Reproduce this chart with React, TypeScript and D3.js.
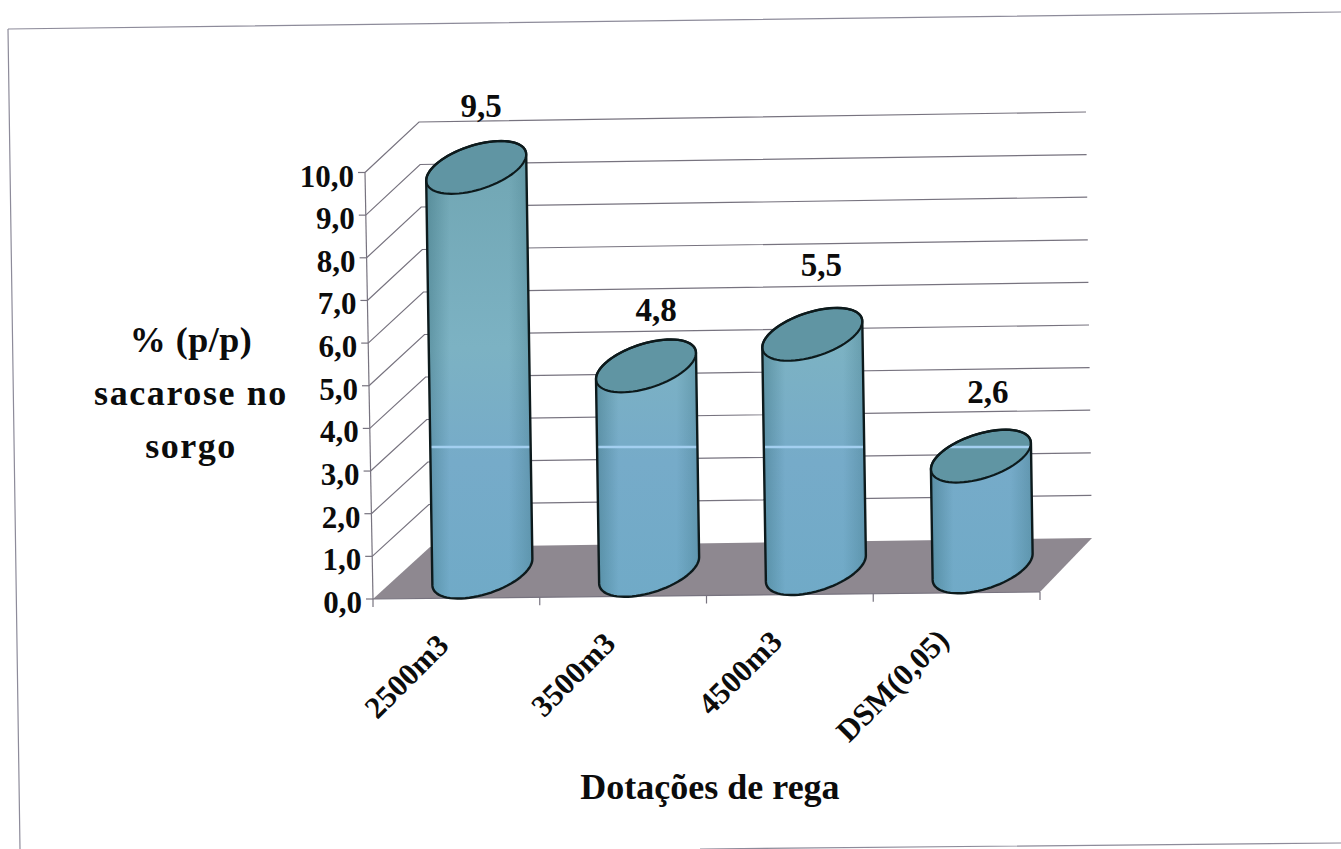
import React from "react";
import * as d3 from "d3";

const categories = ["2500m3", "3500m3", "4500m3", "DSM(0,05)"];
const values = [9.5, 4.8, 5.5, 2.6];
const valueLabels = ["9,5", "4,8", "5,5", "2,6"];
const yTicks = [0, 1, 2, 3, 4, 5, 6, 7, 8, 9, 10];
const yTitleLines = ["% (p/p)", "sacarose no", "sorgo"];
const xTitle = "Dotações de rega";

const WIDTH = 1341;
const HEIGHT = 849;
const SERIF = "'Liberation Serif', 'Times New Roman', serif";
const GRID = "#77737f";

// Offset of each value label from its cylinder's top rim.
const labelLift = [50, 45, 58, 53];
const labelShift = [5, 10, 9, 7];
// Per-line tracking of the value axis title.
const yTitleSpacing = [0.5, 1.6, 1.5];

// The 3D box is described by three skewed edges, each a pair of linear scales over value.
const frontX = d3.scaleLinear().domain([0, 10]).range([373, 365]);
const frontY = d3.scaleLinear().domain([0, 10]).range([599, 172.5]);
const backX = d3.scaleLinear().domain([0, 10]).range([430, 419]);
const backY = d3.scaleLinear().domain([0, 10]).range([547, 122]);
const rightX = d3.scaleLinear().domain([0, 10]).range([1092, 1086]);
const rightY = d3.scaleLinear().domain([0, 10]).range([538, 112]);

// Categories along the front floor edge; the floor tilts slightly upward to the right.
const band = d3.scaleBand<string>().domain(categories).range([373, 1040]);
const floorFrontY = d3.scaleLinear().domain([373, 1040]).range([599, 592]);

// Cylinders stand halfway back on the floor.
const DEPTH_DX = 26;
const DEPTH_DY = -26;
const RX = 50;
const RY = 23;
const SHEAR = 13;
const unitHeight = 42.6;
const unitLean = 0.65;

const angles = d3.range(0, 2 * Math.PI, Math.PI / 36);
const rimPoint = (cx: number, cy: number, t: number): [number, number] => [
  cx + RX * Math.cos(t),
  cy - SHEAR * Math.cos(t) - RY * Math.sin(t),
];
const closedLine = d3.line().curve(d3.curveLinearClosed);

function cylinder(i: number) {
  const cat = categories[i];
  const fx = band(cat)! + band.bandwidth() / 2;
  const baseX = fx + DEPTH_DX;
  const baseY = floorFrontY(fx) + DEPTH_DY;
  const topX = baseX - values[i] * unitLean;
  const topY = baseY - values[i] * unitHeight;
  const rim = closedLine(angles.map((t) => rimPoint(topX, topY, t)))!;
  // Silhouette: the lower half of the base rim joined to the upper half of the top rim.
  const lower = d3.range(Math.PI, 2 * Math.PI + 0.001, Math.PI / 36).map((t) => rimPoint(baseX, baseY, t));
  const upper = d3.range(0, Math.PI + 0.001, Math.PI / 36).map((t) => rimPoint(topX, topY, t));
  const outline = closedLine([...lower, ...upper])!;
  return { fx, baseX, baseY, topX, topY, rim, outline };
}

export default function App() {
  const cylinders = categories.map((_, i) => cylinder(i));
  const floor = closedLine([
    [frontX(0), frontY(0)],
    [1040, floorFrontY(1040)],
    [rightX(0), rightY(0)],
    [backX(0), backY(0)],
  ])!;
  return (
    <svg
      width={WIDTH}
      height={HEIGHT}
      viewBox={`0 0 ${WIDTH} ${HEIGHT}`}
      style={{ position: "absolute", left: 0, top: 0, display: "block", background: "#fff" }}
      fontFamily={SERIF}
      fontWeight="bold"
      fill="#0c0c0c"
    >
      <defs>
        <linearGradient id="bodyTone" gradientUnits="userSpaceOnUse" x1="0" y1="140" x2="0" y2="600">
          <stop offset="0" stopColor="#70a5b2" />
          <stop offset="0.45" stopColor="#7cb2c3" />
          <stop offset="0.7" stopColor="#76abc9" />
          <stop offset="1" stopColor="#70aac7" />
        </linearGradient>
        <linearGradient id="bodyEdges" x1="0" y1="0" x2="1" y2="0">
          <stop offset="0" stopColor="#2f6470" stopOpacity="0.4" />
          <stop offset="0.22" stopColor="#2f6470" stopOpacity="0" />
          <stop offset="0.78" stopColor="#2f6470" stopOpacity="0" />
          <stop offset="1" stopColor="#2f6470" stopOpacity="0.3" />
        </linearGradient>
        {cylinders.map((c, i) => (
          <clipPath id={`cyl-${i}`} key={i}>
            <path d={c.outline} />
          </clipPath>
        ))}
      </defs>

      {/* outer frame */}
      <path d="M8,29 L1341,12 M8,29 L20,849 M700,849 L1341,843" fill="none" stroke="#8d8b9a" strokeWidth={1.2} />

      {/* floor */}
      <path d={floor} fill="#8e8890" />

      {/* gridlines: side wall diagonal then back wall */}
      {yTicks.map((v) => (
        <g key={v} fill="none" stroke={GRID} strokeWidth={1.2}>
          {v > 0 && (
            <path d={`M${frontX(v)},${frontY(v)} L${backX(v)},${backY(v)} L${rightX(v)},${rightY(v)}`} />
          )}
          <line x1={frontX(v) - 7} x2={frontX(v)} y1={frontY(v)} y2={frontY(v)} />
        </g>
      ))}

      {/* front axes */}
      <g stroke={GRID} strokeWidth={1.2}>
        <line x1={frontX(0)} y1={frontY(0)} x2={frontX(10)} y2={frontY(10)} />
        <line x1={373} y1={floorFrontY(373)} x2={1040} y2={floorFrontY(1040)} />
        {[...categories.map((c) => band(c)!), 1040].map((x) => (
          <line key={x} x1={x} x2={x} y1={floorFrontY(x)} y2={floorFrontY(x) + 8} />
        ))}
      </g>

      {/* cylinders */}
      {cylinders.map((c, i) => (
        <g key={i}>
          <path d={c.outline} fill="url(#bodyTone)" />
          <path d={c.outline} fill="url(#bodyEdges)" />
          <path d={c.rim} fill="#6095a3" />
          <line
            x1={300}
            x2={1100}
            y1={447}
            y2={447}
            stroke="#a3cff0"
            strokeWidth={2.5}
            clipPath={`url(#cyl-${i})`}
          />
          <path d={c.outline} fill="none" stroke="#0d1a1c" strokeWidth={2.4} strokeLinejoin="round" />
          <path d={c.rim} fill="none" stroke="#0d1a1c" strokeWidth={2.2} />
        </g>
      ))}

      {/* value labels */}
      {cylinders.map((c, i) => (
        <text key={i} x={c.topX + labelShift[i]} y={c.topY - labelLift[i]} fontSize={33} textAnchor="middle">
          {valueLabels[i]}
        </text>
      ))}

      {/* value axis labels */}
      {yTicks.map((v) => (
        <text key={v} x={frontX(v) - 11} y={frontY(v) + 14} fontSize={31} textAnchor="end">
          {d3.format(".1f")(v).replace(".", ",")}
        </text>
      ))}

      {/* category labels */}
      {cylinders.map((c, i) => (
        <text
          key={i}
          transform={`translate(${c.fx - 6},${floorFrontY(c.fx) + 49}) rotate(-45)`}
          fontSize={31}
          textAnchor="end"
        >
          {categories[i]}
        </text>
      ))}

      {/* axis titles */}
      {yTitleLines.map((line, i) => (
        <text
          key={line}
          x={191}
          y={352 + i * 53}
          fontSize={36}
          textAnchor="middle"
          letterSpacing={yTitleSpacing[i]}
        >
          {line}
        </text>
      ))}
      <text x={710} y={799} fontSize={36} textAnchor="middle">
        {xTitle}
      </text>
    </svg>
  );
}
